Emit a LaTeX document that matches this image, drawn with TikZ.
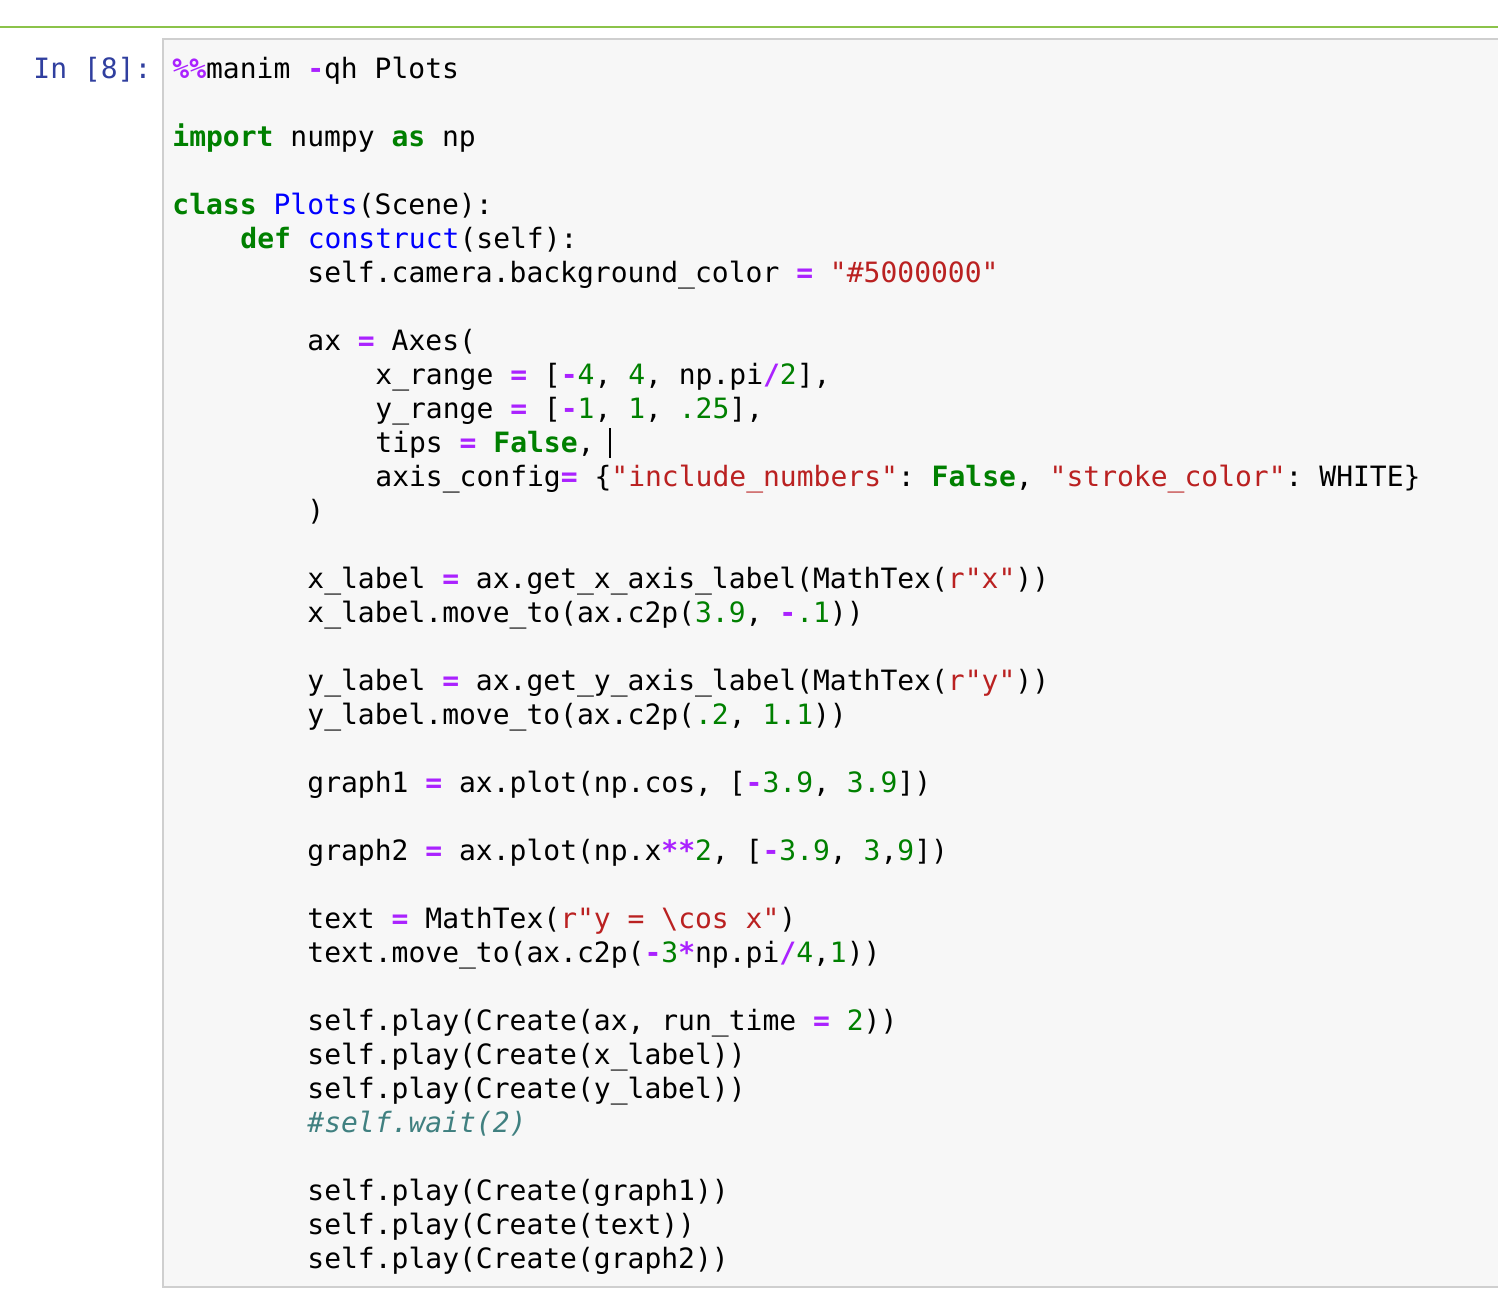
\documentclass[tikz,border=0pt]{standalone}
\usepackage{fontspec}
\setmonofont{DejaVu Sans Mono}
\definecolor{kw}{HTML}{008000}
\definecolor{nm}{HTML}{0000FF}
\definecolor{st}{HTML}{BA2121}
\definecolor{op}{HTML}{AA22FF}
\definecolor{cm}{HTML}{408080}
\definecolor{prm}{HTML}{303F9F}
\newcommand{\K}[1]{\textcolor{kw}{\bfseries #1}}
\newcommand{\N}[1]{\textcolor{nm}{#1}}
\newcommand{\Sx}[1]{\textcolor{st}{#1}}
\newcommand{\D}[1]{\textcolor{kw}{#1}}
\newcommand{\Ox}[1]{\textcolor{op}{\bfseries #1}}
\newcommand{\Cx}[1]{\textcolor{cm}{\itshape #1}}
\begin{document}
\begin{tikzpicture}[x=0.5pt,y=-0.5pt,
  code/.style={anchor=base west,inner sep=0pt,font=\ttfamily\fontsize{14}{14}\selectfont}]
\useasboundingbox (0,0) rectangle (1498,1308);
\fill[white] (0,0) rectangle (1498,1308);
\draw[color={rgb,255:red,139;green,195;blue,74},line width=1.2pt] (0,27) -- (1498,27);
\filldraw[fill={rgb,255:red,247;green,247;blue,247},draw={rgb,255:red,207;green,207;blue,207},line width=1pt] (1510,39) -- (163,39) -- (163,1287) -- (1510,1287);
\node[code,text=prm] (prompt) at (33,78) {In [8]:};
\def\A{172}\def\B{240}\def\Cc{307}\def\Dd{375}
\node[code] (l1) at (\A,78) {\Ox{\%\%}manim \Ox{-}qh Plots};
\node[code] (l2) at (\A,146) {\K{import} numpy \K{as} np};
\node[code] (l3) at (\A,214) {\K{class} \N{Plots}(Scene):};
\node[code] (l4) at (\B,248) {\K{def} \N{construct}(self):};
\node[code] (l5) at (\Cc,282) {self.camera.background\_color \Ox{=} \Sx{"\#5000000"}};
\node[code] (l6) at (\Cc,350) {ax \Ox{=} Axes(};
\node[code] (l7) at (\Dd,384) {x\_range \Ox{=} [\Ox{-}\D{4}, \D{4}, np.pi\Ox{/}\D{2}],};
\node[code] (l8) at (\Dd,418) {y\_range \Ox{=} [\Ox{-}\D{1}, \D{1}, \D{.25}],};
\node[code] (l9) at (\Dd,452) {tips \Ox{=} \K{False},};
\draw[black,line width=0.6pt] (610,428) -- (610,458);
\node[code] (l10) at (\Dd,486) {axis\_config\Ox{=} \{\Sx{"include\_numbers"}: \K{False}, \Sx{"stroke\_color"}: WHITE\}};
\node[code] (l11) at (\Cc,520) {)};
\node[code] (l12) at (\Cc,588) {x\_label \Ox{=} ax.get\_x\_axis\_label(MathTex(\Sx{r"x"}))};
\node[code] (l13) at (\Cc,622) {x\_label.move\_to(ax.c2p(\D{3.9}, \Ox{-}\D{.1}))};
\node[code] (l14) at (\Cc,690) {y\_label \Ox{=} ax.get\_y\_axis\_label(MathTex(\Sx{r"y"}))};
\node[code] (l15) at (\Cc,724) {y\_label.move\_to(ax.c2p(\D{.2}, \D{1.1}))};
\node[code] (l16) at (\Cc,792) {graph1 \Ox{=} ax.plot(np.cos, [\Ox{-}\D{3.9}, \D{3.9}])};
\node[code] (l17) at (\Cc,860) {graph2 \Ox{=} ax.plot(np.x\Ox{**}\D{2}, [\Ox{-}\D{3.9}, \D{3},\D{9}])};
\node[code] (l18) at (\Cc,928) {text \Ox{=} MathTex(\Sx{r"y = \textbackslash cos x"})};
\node[code] (l19) at (\Cc,962) {text.move\_to(ax.c2p(\Ox{-}\D{3}\Ox{*}np.pi\Ox{/}\D{4},\D{1}))};
\node[code] (l20) at (\Cc,1030) {self.play(Create(ax, run\_time \Ox{=} \D{2}))};
\node[code] (l21) at (\Cc,1064) {self.play(Create(x\_label))};
\node[code] (l22) at (\Cc,1098) {self.play(Create(y\_label))};
\node[code] (l23) at (\Cc,1132) {\Cx{\#self.wait(2)}};
\node[code] (l24) at (\Cc,1200) {self.play(Create(graph1))};
\node[code] (l25) at (\Cc,1234) {self.play(Create(text))};
\node[code] (l26) at (\Cc,1268) {self.play(Create(graph2))};
\end{tikzpicture}
\end{document}
